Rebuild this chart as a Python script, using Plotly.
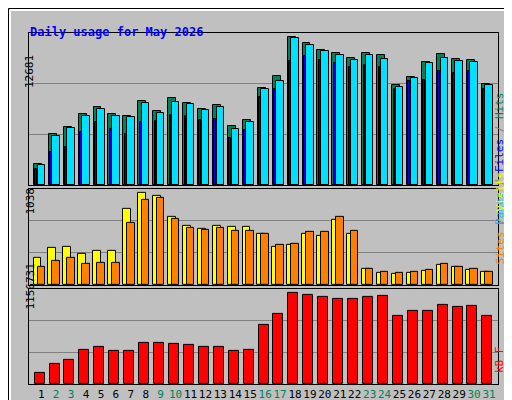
import plotly.graph_objects as go

days = list(range(1, 32))
weekend = [2, 3, 9, 10, 16, 17, 23, 24, 30, 31]

hits = [1799, 4370, 4970, 6083, 6683, 6083, 5912, 7197, 6340, 7454, 7026, 6512, 6854, 5055, 5569, 8311,
        9339, 12681, 12167, 11567, 11310, 10881, 11310, 11138, 8568, 9254, 10539, 11224, 10796, 10710, 8654]
files = [1714, 4198, 4884, 5912, 6512, 5912, 5826, 7026, 6169, 7111, 6940, 6426, 6683, 4798, 5398, 8225,
         8911, 12595, 11995, 11481, 11138, 10710, 11138, 10796, 8397, 9168, 10453, 10881, 10624, 10539, 8568]
pages = [1371, 2827, 3256, 4541, 5398, 4798, 4370, 5398, 5484, 5998, 5912, 5569, 5655, 4027, 4712, 7540,
         8225, 10624, 11053, 10710, 10453, 10110, 10282, 10110, 8225, 8911, 8996, 9768, 9596, 9768, 8225]
visits = [307, 420, 431, 352, 386, 386, 858, 1038, 1004, 768, 667, 633, 667, 656, 656, 577,
          431, 453, 577, 555, 734, 577, 184, 139, 127, 139, 161, 229, 206, 172, 150]
sites = [206, 274, 307, 240, 251, 251, 701, 959, 982, 746, 644, 622, 644, 611, 611, 577,
         453, 465, 600, 600, 768, 611, 184, 150, 139, 150, 172, 240, 206, 184, 150]
kbytes = [143534, 257520, 308180, 434830, 472820, 422160, 422160, 523480, 523480, 510810, 498150,
          472820, 472820, 422160, 434830, 751440, 890760, 1156731, 1131400, 1106080, 1080730, 1080730,
          1106080, 1118750, 865430, 928760, 928760, 1004740, 979410, 992080, 865430]

BG = "#C0C0C0"
MONO = "DejaVu Sans Mono"
L, R, T, B = 21, 22, 25, 24
W, H = 512, 400


def px(x, y):
    return (x - L) / (W - L - R), (H - B - y) / (H - T - B)


def bar(x, y, off, width, color, axis):
    return go.Bar(x=[d + off for d in x], y=y, width=width, marker_color=color,
                  marker_line_color="black", marker_line_width=1,
                  xaxis="x" + axis, yaxis="y" + axis, showlegend=False, hoverinfo="y")


fig = go.Figure()
fig.add_trace(bar(days, hits, -0.23, 0.53, "#00805C", ""))
fig.add_trace(bar(days, files, 0.0, 0.5, "#00E0FF", ""))
fig.add_trace(bar(days, pages, -0.34, 0.12, "#0000FF", ""))
fig.add_trace(bar(days, visits, -0.25, 0.53, "#FFFF00", "2"))
fig.add_trace(bar(days, sites, 0.0, 0.5, "#FF8000", "2"))
fig.add_trace(bar(days, kbytes, -0.11, 0.67, "#FF0000", "3"))

ticktext = [f'<span style="color:#00805C">{d}</span>' if d in weekend else str(d) for d in days]

xcommon = dict(range=[0.18, 31.6], showgrid=False, zeroline=False, showline=True, linecolor="black",
               mirror=True, fixedrange=True, automargin=False)
fig.update_layout(
    width=W, height=H, paper_bgcolor=BG, plot_bgcolor=BG, barmode="overlay", bargap=0,
    margin=dict(l=L, r=R, t=T, b=B, autoexpand=False),
    font=dict(family=MONO, size=11, color="black"),
    xaxis=dict(**xcommon, anchor="y", showticklabels=False),
    xaxis2=dict(**xcommon, anchor="y2", matches="x", showticklabels=False),
    xaxis3=dict(**xcommon, anchor="y3", matches="x", tickvals=days, ticktext=ticktext,
                ticks="", tickangle=0, tickfont=dict(family=MONO, size=11)),
)
ycommon = dict(showline=True, linecolor="black", mirror=True, zeroline=False, showticklabels=False,
               gridcolor="#808080", gridwidth=1, fixedrange=True, automargin=False)
for name, dom, mx, k in [("yaxis", [0.567, 1.0], max(hits), 1.027),
                         ("yaxis2", [0.282, 0.556], max(visits), 1.04),
                         ("yaxis3", [0.0, 0.271], max(kbytes), 1.04)]:
    top = mx * k
    fig.update_layout({name: dict(**ycommon, domain=dom, range=[0, top],
                                  tickvals=[top / 3, 2 * top / 3])})

ann = []
x0, y0 = px(20, 15)
ann.append(dict(x=x0, y=y0, text="<b>Daily usage for May 2026</b>", showarrow=False, xanchor="left",
                xref="paper", yref="paper",
                font=dict(family=MONO, size=12, color="#0000FF")))
for label, ypix in [(str(max(hits)), 45), (str(max(visits)), 193), (str(max(kbytes)), 304)]:
    ax, ay = px(13, ypix)
    ann.append(dict(x=ax, y=ay, text=label, textangle=-90, showarrow=False, xref="paper", yref="paper",
                    font=dict(family=MONO, size=11, color="black")))
right = [
    ('<span style="color:#00C0FF">Pages</span><span style="color:#808080"> / </span>'
     '<span style="color:#0000FF">Files</span><span style="color:#808080"> / </span>'
     '<span style="color:#00805C">Hits</span>', 82),
    ('<span style="color:#FF8000">Sites</span><span style="color:#808080"> / </span>'
     '<span style="color:#FFFF00">Visits</span>', 210),
    ('<span style="color:#FF0000">kB F</span>', 367),
]
for text, ypix in right:
    ax, ay = px(500, ypix)
    ann.append(dict(x=ax, y=ay, text=text, textangle=-90, showarrow=False, xref="paper", yref="paper",
                    font=dict(family=MONO, size=11)))
fig.update_layout(annotations=ann)

# outer frame with bevel
fx0, fy0 = px(0.5, 0.5)
fx1, fy1 = px(511.5, 399.5)
bx0, by0 = px(2, 2)
bx1, by1 = px(509, 397)
fig.update_layout(shapes=[
    dict(type="rect", xref="paper", yref="paper", x0=fx0, y0=fy0, x1=fx1, y1=fy1,
         line=dict(color="black", width=1)),
    dict(type="line", xref="paper", yref="paper", x0=bx0, y0=by0, x1=bx1, y1=by0,
         line=dict(color="white", width=2)),
    dict(type="line", xref="paper", yref="paper", x0=bx0, y0=by0, x1=bx0, y1=by1,
         line=dict(color="white", width=2)),
    dict(type="line", xref="paper", yref="paper", x0=bx0, y0=by1, x1=bx1, y1=by1,
         line=dict(color="#808080", width=2)),
    dict(type="line", xref="paper", yref="paper", x0=bx1, y0=by0, x1=bx1, y1=by1,
         line=dict(color="#808080", width=2)),
])

fig.write_html("out.html")
